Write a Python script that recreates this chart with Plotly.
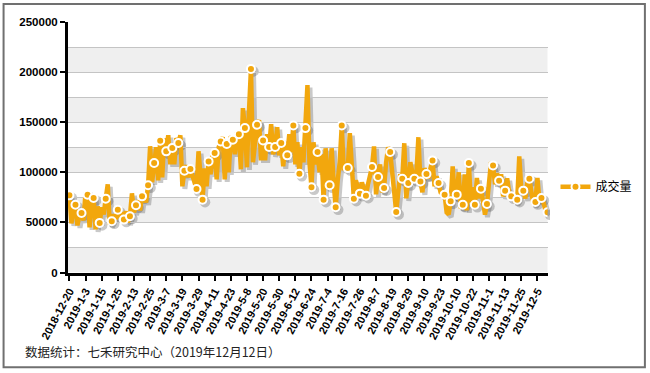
import plotly.graph_objects as go
from datetime import date, timedelta

# ---------------- data ----------------
START_DATE = date(2018, 12, 20)
END_DATE = date(2019, 12, 12)
HOLIDAYS = ["2018-12-31", "2019-01-01", "2019-02-04", "2019-02-05", "2019-02-06",
            "2019-02-07", "2019-02-08", "2019-04-05", "2019-05-01", "2019-05-02",
            "2019-05-03", "2019-06-07", "2019-09-13", "2019-10-01", "2019-10-02",
            "2019-10-03", "2019-10-04", "2019-10-07"]

categories = []
d = START_DATE
while d <= END_DATE:
    if d.weekday() < 5 and d.isoformat() not in HOLIDAYS:
        categories.append(f"{d.year}-{d.month}-{d.day}")
    d += timedelta(days=1)

volume = [
    77000, 49000, 63000, 67700, 47000, 58000, 59400, 52000, 80000, 77700, 45000, 70000,
    74400, 43000, 66000, 49500, 65000, 58000, 73700, 88000, 48000, 51100, 58000, 53000,
    62700, 55000, 60000, 52800, 61000, 50000, 56100, 79000, 60000, 67100, 72000, 62000,
    76000, 78000, 70000, 87000, 126000, 90000, 109200, 125000, 92000, 131500, 95000, 134000,
    120900, 137000, 108000, 124200, 108000, 134000, 129200, 137000, 86000, 101600, 107000, 95000,
    103300, 96000, 92000, 83400, 121000, 90000, 72700, 104000, 86000, 110900, 98000, 121000,
    119200, 93000, 125000, 130800, 135000, 93000, 128200, 100000, 136000, 132500, 118000, 140000,
    138100, 103000, 164000, 144100, 105000, 160000, 203200, 110000, 125000, 147400, 152000, 112000,
    131800, 112000, 138000, 125200, 148000, 118000, 125200, 145000, 117000, 129200, 106000, 130000,
    116900, 138000, 120000, 146700, 108000, 130000, 98600, 125000, 110000, 144100, 187000, 110000,
    85000, 130000, 108000, 120200, 100000, 118000, 72700, 124000, 95000, 87000, 124000, 90000,
    65100, 92000, 110000, 146700, 102000, 110000, 104200, 139000, 97000, 73700, 92000, 83000,
    78700, 90000, 84000, 76700, 88000, 96000, 105300, 125800, 78000, 95300, 108000, 80000,
    84400, 110000, 125000, 120200, 98000, 72000, 60400, 80000, 98000, 93600, 129000, 74000,
    89300, 110000, 100000, 93600, 98000, 135000, 90900, 80000, 104000, 98300, 94000, 104000,
    111900, 86000, 96000, 89300, 80000, 78000, 77700, 60000, 58000, 71000, 105900, 74000,
    77700, 100000, 64000, 67700, 98000, 62000, 109200, 70000, 85000, 67700, 94300, 74000,
    83700, 72000, 57800, 68400, 95000, 110000, 106900, 88000, 99000, 91600, 98000, 76000,
    81700, 94000, 80000, 76000, 78000, 70000, 72700, 115800, 84000, 81700, 74000, 90000,
    93600, 78000, 68000, 70400, 94300, 72000, 74400, 70000, 62000, 60100,
]
assert len(volume) == len(categories) == 238

tick_labels = ["2018-12-20", "2019-1-3", "2019-1-15", "2019-1-25", "2019-2-13", "2019-2-25",
               "2019-3-7", "2019-3-19", "2019-3-29", "2019-4-11", "2019-4-23", "2019-5-8",
               "2019-5-20", "2019-5-30", "2019-6-12", "2019-6-24", "2019-7-4", "2019-7-16",
               "2019-7-26", "2019-8-7", "2019-8-19", "2019-8-29", "2019-9-10", "2019-9-23",
               "2019-10-10", "2019-10-22", "2019-11-1", "2019-11-13", "2019-11-25", "2019-12-5"]
y_ticks = [0, 50000, 100000, 150000, 200000, 250000]
series_name = "成交量"
footer = "数据统计：七禾研究中心（2019年12月12日）"
MARKER_STEP = 3

# ---------------- layout geometry ----------------
W, H = 650, 373
ML, MT = 68, 22
PLOT_W, PLOT_H = 480, 251
SH = 2.5  # shadow offset px
paper_w, paper_h = PLOT_W + SH, PLOT_H + SH
MR = W - ML - paper_w
MB = H - MT - paper_h
xdom_main = [0, PLOT_W / paper_w]
xdom_sh = [SH / paper_w, 1]
ydom_main = [SH / paper_h, 1]
ydom_sh = [0, PLOT_H / paper_h]

def px_x(px):
    return (px - ML) / paper_w

def px_y(py):
    return (MT + paper_h - py) / paper_h

ORANGE = "#F2A70D"
SHADOW = "rgba(60,60,60,0.28)"

mk_x = categories[::MARKER_STEP]
mk_y = volume[::MARKER_STEP]

fig = go.Figure()
# shadow traces
fig.add_trace(go.Scatter(x=categories, y=volume, mode="lines", xaxis="x", yaxis="y",
                         line=dict(color=SHADOW, width=5), showlegend=False, hoverinfo="skip"))
fig.add_trace(go.Scatter(x=mk_x, y=mk_y, mode="markers", xaxis="x", yaxis="y",
                         marker=dict(color=SHADOW, size=10.5), showlegend=False, hoverinfo="skip"))
# main traces
fig.add_trace(go.Scatter(x=categories, y=volume, mode="lines", xaxis="x2", yaxis="y2",
                         line=dict(color=ORANGE, width=4.5), showlegend=False))
fig.add_trace(go.Scatter(x=mk_x, y=mk_y, mode="markers", xaxis="x2", yaxis="y2",
                         marker=dict(color=ORANGE, size=8, line=dict(color="white", width=2)),
                         showlegend=False))
# legend entry
fig.add_trace(go.Scatter(x=[None], y=[None], mode="lines+markers", xaxis="x2", yaxis="y2",
                         name=series_name,
                         line=dict(color=ORANGE, width=4.5),
                         marker=dict(color=ORANGE, size=8, line=dict(color="white", width=2))))

shapes = []
for v in range(0, y_ticks[-1], 50000):
    shapes.append(dict(type="rect", xref="paper", yref="y2", x0=0, x1=xdom_main[1],
                       y0=v, y1=v + 25000, fillcolor="#EFEFEF", line=dict(width=0),
                       layer="below"))
# outer frame
shapes.append(dict(type="rect", xref="paper", yref="paper",
                   x0=px_x(3.5), x1=px_x(645.5), y0=px_y(368), y1=px_y(4),
                   line=dict(color="#707070", width=2), fillcolor="rgba(0,0,0,0)", layer="above"))

xr = [-0.7, len(categories) - 1]
fig.update_layout(
    width=W, height=H,
    margin=dict(l=ML, r=MR, t=MT, b=MB, pad=0),
    paper_bgcolor="white", plot_bgcolor="rgba(0,0,0,0)",
    font=dict(family="Arial, Liberation Sans, sans-serif", color="black"),
    shapes=shapes,
    xaxis=dict(domain=xdom_sh, anchor="y", type="category", range=xr, visible=False,
               categoryorder="array", categoryarray=categories),
    yaxis=dict(domain=ydom_sh, anchor="x", range=[0, 250000], visible=False),
    xaxis2=dict(domain=xdom_main, anchor="y2", type="category", range=xr,
                categoryorder="array", categoryarray=categories,
                tickmode="array", tickvals=tick_labels, ticktext=tick_labels,
                tickangle=-62, ticks="outside", ticklen=5, tickwidth=2, tickcolor="black",
                showline=True, linecolor="black", linewidth=3, showgrid=False,
                tickfont=dict(size=11, family="Arial, Liberation Sans", color="black",
                              weight="bold")),
    yaxis2=dict(domain=ydom_main, anchor="x2", range=[0, 250000],
                tickmode="array", tickvals=y_ticks, ticktext=[str(v) for v in y_ticks],
                ticks="outside", ticklen=5, tickwidth=2, tickcolor="black",
                showline=True, linecolor="black", linewidth=3,
                showgrid=True, gridcolor="#C4C4C4", gridwidth=1, zeroline=False,
                minor=dict(dtick=25000, tick0=0, showgrid=True, gridcolor="#C4C4C4",
                           gridwidth=1, ticks=""),
                tickfont=dict(size=11.5, family="Arial, Liberation Sans", color="black",
                              weight="bold")),
    legend=dict(x=px_x(556), y=px_y(187), xanchor="left", yanchor="middle",
                bgcolor="rgba(0,0,0,0)", borderwidth=0,
                font=dict(size=12, family="Noto Sans CJK SC", color="black")),
    annotations=[dict(text=footer, xref="paper", yref="paper", x=px_x(23), y=px_y(352),
                      xanchor="left", yanchor="middle", showarrow=False,
                      font=dict(size=12.5, family="Noto Sans CJK SC", color="#222222"))],
)

fig.write_html("out.html", config={"displayModeBar": False},
               post_script="document.body.style.margin='0px';")
